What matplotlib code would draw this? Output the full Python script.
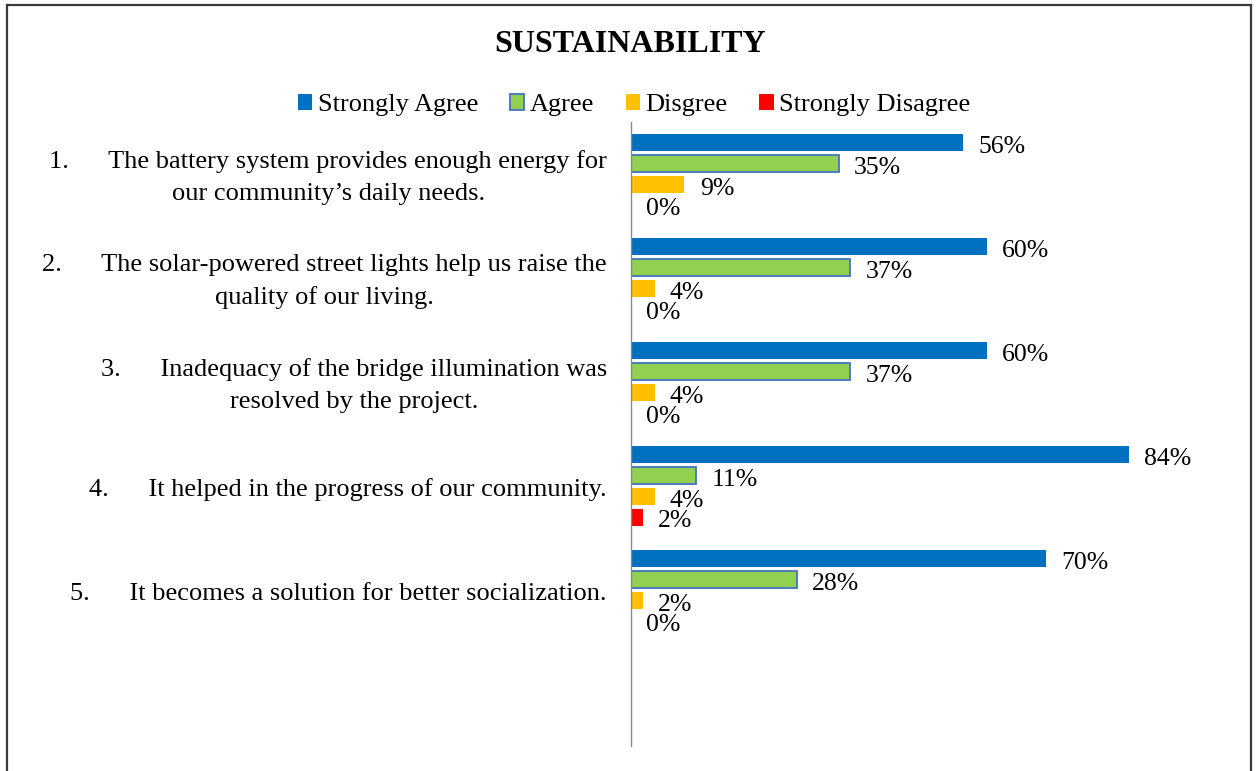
import matplotlib
matplotlib.use("Agg")
import matplotlib.pyplot as plt
from matplotlib.patches import Patch
from matplotlib.lines import Line2D
from matplotlib import transforms

plt.rcParams['font.family'] = ['Liberation Serif', 'DejaVu Serif']

# Survey data (percent of respondents)
statements = [
    ("1.", "The battery system provides enough energy for\nour community\u2019s daily needs."),
    ("2.", "The solar-powered street lights help us raise the\nquality of our living."),
    ("3.", "Inadequacy of the bridge illumination was\nresolved by the project."),
    ("4.", "It helped in the progress of our community."),
    ("5.", "It becomes a solution for better socialization."),
]
series_names = ["Strongly Agree", "Agree", "Disgree", "Strongly Disagree"]
strongly_agree = [56, 60, 60, 84, 70]
agree = [35, 37, 37, 11, 28]
disagree = [9, 4, 4, 4, 2]
strongly_disagree = [0, 0, 0, 2, 0]

colors = ["#0070C0", "#92D050", "#FFC000", "#FF0000"]
edges = [None, "#4472C4", None, None]

W, H = 1256, 771
fig = plt.figure(figsize=(W / 100, H / 100), dpi=100)

ax_left, ax_right = 631, 1224
ax_top, ax_bottom = 122, 746
ax = fig.add_axes([ax_left / W, 1 - ax_bottom / H,
                   (ax_right - ax_left) / W, (ax_bottom - ax_top) / H])

FS = 18.5
LFS = 19
n = len(statements)
all_series = [strongly_agree, agree, disagree, strongly_disagree]
offsets = [-0.3, -0.1, 0.1, 0.3]
bar_h = 0.165
for vals, off, c, ec in zip(all_series, offsets, colors, edges):
    ys = [i + off for i in range(n)]
    if ec:
        ax.barh(ys, vals, height=bar_h, color=c, edgecolor=ec, linewidth=1.3)
    else:
        ax.barh(ys, vals, height=bar_h, color=c, linewidth=0)
    for y, v in zip(ys, vals):
        ax.annotate(f"{v}%", xy=(v, y), xytext=(11, -3), textcoords="offset points",
                    ha="left", va="center", fontsize=FS, color="black")

ax.set_xlim(0, 100)
ax.set_ylim(5.5, -0.5)
ax.set_xticks([])
ax.set_yticks([])
for s in ["top", "right", "bottom"]:
    ax.spines[s].set_visible(False)
ax.spines["left"].set_color("#898989")
ax.spines["left"].set_linewidth(1.0)

# Category labels, right-aligned against the axis
trans = transforms.blended_transform_factory(fig.transFigure, ax.transData)
trans = transforms.offset_copy(trans, fig=fig, y=-3.5, units="dots")
for i, (num, text) in enumerate(statements):
    label = num + "      " + text
    ax.text(607 / W, i, label, transform=trans, ha="right", va="center",
            multialignment="center", fontsize=LFS, linespacing=1.55)

# Title
fig.text(630 / W, 1 - 45 / H, "SUSTAINABILITY", ha="center", va="center",
         fontsize=23, fontweight="bold")

# Legend
handles = [Patch(facecolor=c, edgecolor=(ec if ec else c), linewidth=1.3 if ec else 0)
           for c, ec in zip(colors, edges)]
fig.legend(handles, series_names, loc="center", bbox_to_anchor=(634 / W, 1 - 105 / H),
           ncol=4, frameon=False, fontsize=LFS, handlelength=0.55, handleheight=0.55,
           handletextpad=0.2, columnspacing=1.2, borderaxespad=0)

# Outer frame (left, top, right)
frame_kw = dict(color="#3a3a3a", linewidth=1.6, transform=fig.transFigure)
fig.add_artist(Line2D([7 / W, 7 / W], [0, 1 - 5 / H], **frame_kw))
fig.add_artist(Line2D([7 / W, 1251 / W], [1 - 5 / H, 1 - 5 / H], **frame_kw))
fig.add_artist(Line2D([1251 / W, 1251 / W], [1 - 5 / H, 0], **frame_kw))

fig.savefig("out.png", dpi=100, facecolor="white")
